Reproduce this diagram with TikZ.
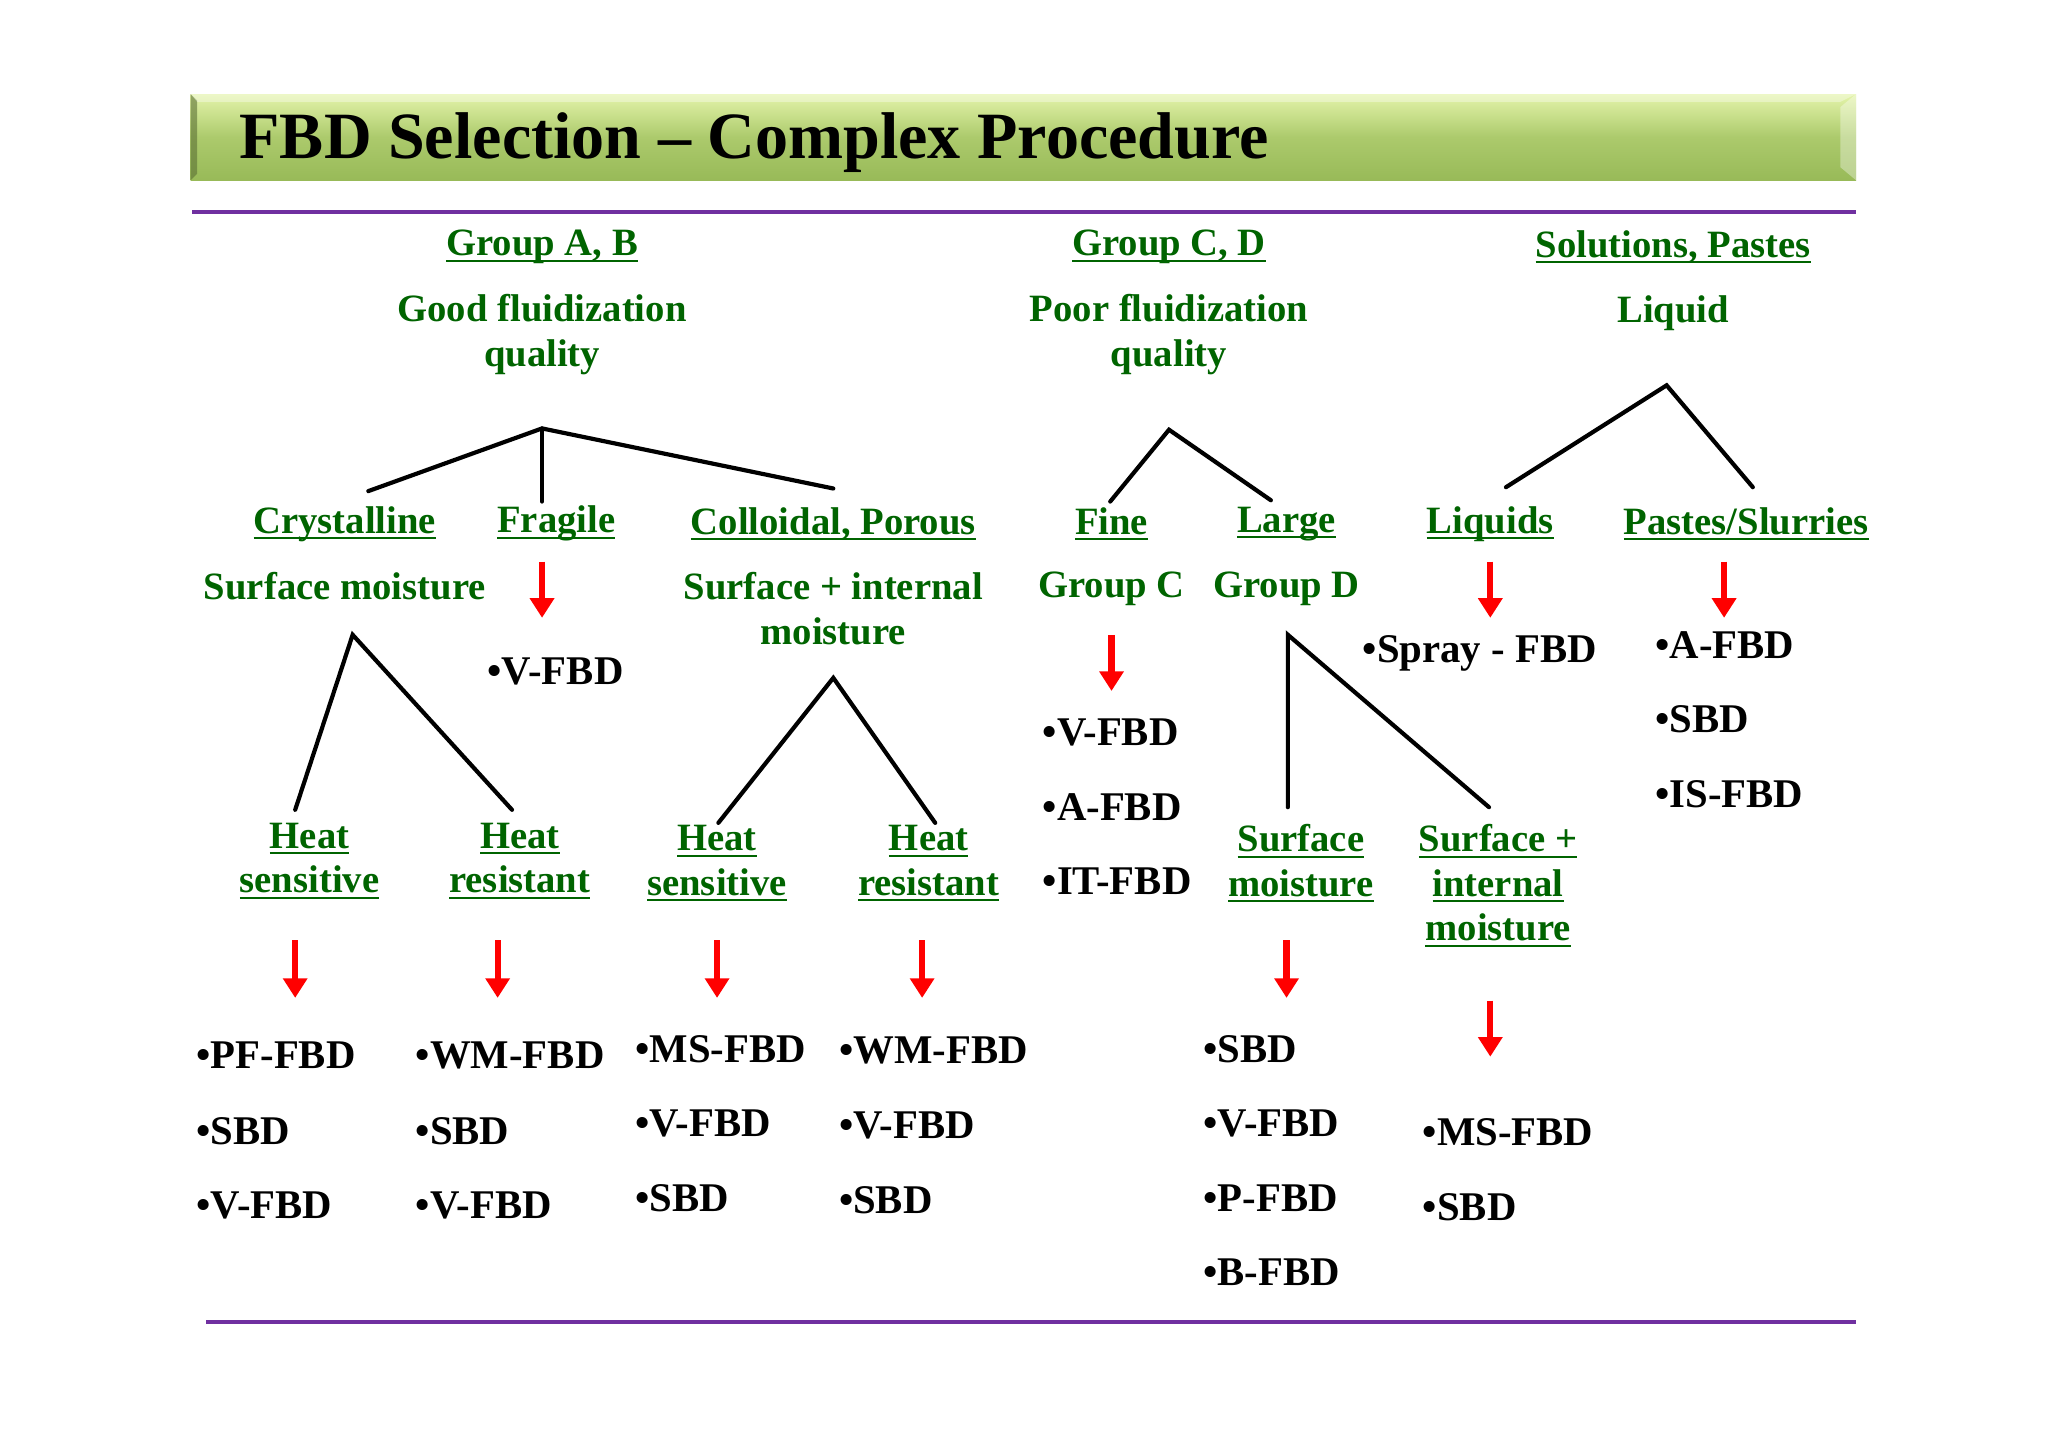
\documentclass[tikz,border=0pt]{standalone}
\usepackage{fontspec}
\setmainfont{Liberation Serif}
\usetikzlibrary{arrows.meta}
\definecolor{grn}{RGB}{0,100,0}
\definecolor{purp}{RGB}{112,48,160}
\definecolor{bartop}{RGB}{228,244,170}
\definecolor{barmid}{RGB}{172,202,108}
\definecolor{barbot}{RGB}{152,186,88}
\newcommand\myul[1]{\setbox0\hbox{#1}\rlap{\rule[-2.4pt]{\wd0}{0.8pt}}\box0}
\begin{document}
\begin{tikzpicture}[x=0.5pt,y=-0.5pt,
 lbl/.style={inner sep=0pt, text=grn, font=\fontsize{14.8}{17}\selectfont\bfseries, align=center},
 item/.style={inner sep=0pt, anchor=west, font=\fontsize{15.6}{18}\selectfont\bfseries},
 tree/.style={line width=1.6pt, line cap=round},
 redarr/.style={draw=red, line width=2.4pt, -{Triangle[width=9pt,length=7.5pt]}},
 purpline/.style={draw=purp, line width=1.5pt}]
\useasboundingbox[fill=white] (0,0) rectangle (1568,1109);
% title bar
\shade[top color=bartop, bottom color=barbot, middle color=barmid] (146,72) rectangle (1421,138);
\fill[black!40!barbot, opacity=0.6] (146,72) -- (151,77) -- (151,133) -- (146,138) -- cycle;
\fill[white, opacity=0.35] (1421,72) -- (1409,82) -- (1409,128) -- (1421,138) -- cycle;
\fill[white, opacity=0.35] (146,72) -- (1421,72) -- (1409,78) -- (151,78) -- cycle;
\node[inner sep=0pt, anchor=west, font=\fontsize{25.3}{30}\selectfont\bfseries] (title) at (183,109) {FBD Selection – Complex Procedure};
% purple rules
\coordinate (pa) at (147,162); \coordinate (pb) at (1421,162);
\coordinate (pc) at (158,1012); \coordinate (pd) at (1421,1012);
\draw[purpline] (pa) -- (pb);
\draw[purpline] (pc) -- (pd);
% headers
\node[lbl] (gab) at (415,189) {\myul{Group A, B}};
\node[lbl] (gcd) at (895,189) {\myul{Group C, D}};
\node[lbl] (sol) at (1281,189) {\myul{Solutions, Pastes}};
\node[lbl] (good) at (415,256) {Good fluidization\\quality};
\node[lbl] (poor) at (895,256) {Poor fluidization\\quality};
\node[lbl] (liq) at (1281,240) {Liquid};
% row 3
\node[lbl] (cry) at (264,401) {\myul{Crystalline}};
\node[lbl] (fra) at (426,401) {\myul{Fragile}};
\node[lbl] (col) at (638,401) {\myul{Colloidal, Porous}};
\node[lbl] (fine) at (851,401) {\myul{Fine}};
\node[lbl] (large) at (985,401) {\myul{Large}};
\node[lbl] (liqs) at (1141,401) {\myul{Liquids}};
\node[lbl] (pas) at (1337,401) {\myul{Pastes/Slurries}};
% row 4
\node[lbl] (sm) at (264,449) {Surface moisture};
\node[lbl] (sim) at (638,466) {Surface + internal\\moisture};
\node[lbl] (gc) at (851,451) {Group C};
\node[lbl] (gd) at (985,451) {Group D};
% items upper
\node[item] (fv) at (373,514) {•V-FBD};
\node[item] (spray) at (1043,500) {•Spray - FBD};
\node[item] (pa1) at (1267,494) {•A-FBD};
\node[item] (pa2) at (1267,551) {•SBD};
\node[item] (pa3) at (1267,608) {•IS-FBD};
\node[item] (c1) at (798,561) {•V-FBD};
\node[item] (c2) at (798,618) {•A-FBD};
\node[item] (c3) at (798,675) {•IT-FBD};
% row 5
\node[lbl] (hs1) at (237,659) {\myul{Heat}\\\myul{sensitive}};
\node[lbl] (hr1) at (398,659) {\myul{Heat}\\\myul{resistant}};
\node[lbl] (hs2) at (549,661) {\myul{Heat}\\\myul{sensitive}};
\node[lbl] (hr2) at (711,661) {\myul{Heat}\\\myul{resistant}};
\node[lbl] (smo) at (996,661) {\myul{Surface}\\\myul{moisture}};
\node[lbl] (sim2) at (1147,678) {\myul{Surface +}\\\myul{internal}\\\myul{moisture}};
% lists
\node[item] (l11) at (150,808) {•PF-FBD};
\node[item] (l12) at (150,866) {•SBD};
\node[item] (l13) at (150,923) {•V-FBD};
\node[item] (l21) at (318,808) {•WM-FBD};
\node[item] (l22) at (318,866) {•SBD};
\node[item] (l23) at (318,923) {•V-FBD};
\node[item] (l31) at (486,803) {•MS-FBD};
\node[item] (l32) at (486,860) {•V-FBD};
\node[item] (l33) at (486,917) {•SBD};
\node[item] (l41) at (642,804) {•WM-FBD};
\node[item] (l42) at (642,862) {•V-FBD};
\node[item] (l43) at (642,919) {•SBD};
\node[item] (l51) at (921,803) {•SBD};
\node[item] (l52) at (921,860) {•V-FBD};
\node[item] (l53) at (921,917) {•P-FBD};
\node[item] (l54) at (921,974) {•B-FBD};
\node[item] (l61) at (1089,867) {•MS-FBD};
\node[item] (l62) at (1089,924) {•SBD};
% tree coordinates
\coordinate (tA) at (415,328); \coordinate (tA1) at (282,376); \coordinate (tA2) at (415,384); \coordinate (tA3) at (638,374);
\coordinate (tB) at (895,329); \coordinate (tB1) at (850,384); \coordinate (tB2) at (973,383);
\coordinate (tS) at (1276,295); \coordinate (tS1) at (1153,373); \coordinate (tS2) at (1342,373);
\coordinate (tC) at (270,486); \coordinate (tC1) at (226,620); \coordinate (tC2) at (392,620);
\coordinate (tP) at (638,519); \coordinate (tP1) at (550,630); \coordinate (tP2) at (716,630);
\coordinate (tD) at (986,486); \coordinate (tD1) at (986,618); \coordinate (tD2) at (1140,618);
\draw[tree] (tA1) -- (tA) -- (tA3); \draw[tree] (tA) -- (tA2);
\draw[tree] (tB1) -- (tB) -- (tB2);
\draw[tree] (tS1) -- (tS) -- (tS2);
\draw[tree] (tC1) -- (tC) -- (tC2);
\draw[tree] (tP1) -- (tP) -- (tP2);
\draw[tree] (tD1) -- (tD) -- (tD2);
% red arrows
\coordinate (r1a) at (415,430); \coordinate (r1b) at (415,473);
\coordinate (r2a) at (1141,430); \coordinate (r2b) at (1141,473);
\coordinate (r3a) at (1320,430); \coordinate (r3b) at (1320,473);
\coordinate (r4a) at (851,486); \coordinate (r4b) at (851,529);
\coordinate (r5a) at (226,720); \coordinate (r5b) at (226,764);
\coordinate (r6a) at (381,720); \coordinate (r6b) at (381,764);
\coordinate (r7a) at (549,720); \coordinate (r7b) at (549,764);
\coordinate (r8a) at (706,720); \coordinate (r8b) at (706,764);
\coordinate (r9a) at (985,720); \coordinate (r9b) at (985,764);
\coordinate (r10a) at (1141,766); \coordinate (r10b) at (1141,809);
\foreach \i in {1,...,10} {\draw[redarr] (r\i a) -- (r\i b);}
\end{tikzpicture}
\end{document}
